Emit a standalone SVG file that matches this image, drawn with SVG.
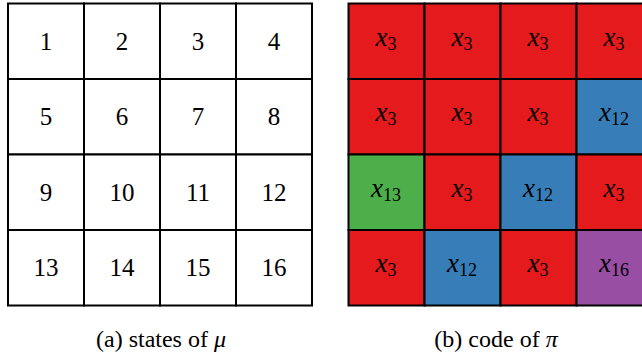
<svg xmlns="http://www.w3.org/2000/svg" width="642" height="356" viewBox="0 0 642 356">
<style>
.cell{stroke:#000;stroke-width:2}
.w{fill:#fff}.r{fill:#e41a1c}.b{fill:#377eb8}.g{fill:#4daf4a}.p{fill:#984ea3}
text{font-family:"Liberation Serif","DejaVu Serif",serif;fill:#000;text-anchor:middle}
.n{font-size:25px}
.m{font-size:27px;font-style:italic}
.s{font-size:18px;font-style:normal}
.cap{font-size:24px}
</style>
<rect width="642" height="356" fill="#fff"/>
<g id="gridA">
<rect class="cell w" x="8" y="3.5" width="76" height="75.5"/><rect class="cell w" x="84" y="3.5" width="76" height="75.5"/><rect class="cell w" x="160" y="3.5" width="76" height="75.5"/><rect class="cell w" x="236" y="3.5" width="76" height="75.5"/>
<rect class="cell w" x="8" y="79" width="76" height="75.5"/><rect class="cell w" x="84" y="79" width="76" height="75.5"/><rect class="cell w" x="160" y="79" width="76" height="75.5"/><rect class="cell w" x="236" y="79" width="76" height="75.5"/>
<rect class="cell w" x="8" y="154.5" width="76" height="75.5"/><rect class="cell w" x="84" y="154.5" width="76" height="75.5"/><rect class="cell w" x="160" y="154.5" width="76" height="75.5"/><rect class="cell w" x="236" y="154.5" width="76" height="75.5"/>
<rect class="cell w" x="8" y="230" width="76" height="75.5"/><rect class="cell w" x="84" y="230" width="76" height="75.5"/><rect class="cell w" x="160" y="230" width="76" height="75.5"/><rect class="cell w" x="236" y="230" width="76" height="75.5"/>
<text class="n" x="46" y="50">1</text><text class="n" x="122" y="50">2</text><text class="n" x="198" y="50">3</text><text class="n" x="274" y="50">4</text>
<text class="n" x="46" y="125">5</text><text class="n" x="122" y="125">6</text><text class="n" x="198" y="125">7</text><text class="n" x="274" y="125">8</text>
<text class="n" x="46" y="201">9</text><text class="n" x="122" y="201">10</text><text class="n" x="198" y="201">11</text><text class="n" x="274" y="201">12</text>
<text class="n" x="46" y="276">13</text><text class="n" x="122" y="276">14</text><text class="n" x="198" y="276">15</text><text class="n" x="274" y="276">16</text>
</g>
<g id="gridB">
<rect class="cell r" x="348.5" y="3.5" width="76" height="75.5"/><rect class="cell r" x="424.5" y="3.5" width="76" height="75.5"/><rect class="cell r" x="500.5" y="3.5" width="76" height="75.5"/><rect class="cell r" x="576.5" y="3.5" width="76" height="75.5"/>
<rect class="cell r" x="348.5" y="79" width="76" height="75.5"/><rect class="cell r" x="424.5" y="79" width="76" height="75.5"/><rect class="cell r" x="500.5" y="79" width="76" height="75.5"/><rect class="cell b" x="576.5" y="79" width="76" height="75.5"/>
<rect class="cell g" x="348.5" y="154.5" width="76" height="75.5"/><rect class="cell r" x="424.5" y="154.5" width="76" height="75.5"/><rect class="cell b" x="500.5" y="154.5" width="76" height="75.5"/><rect class="cell r" x="576.5" y="154.5" width="76" height="75.5"/>
<rect class="cell r" x="348.5" y="230" width="76" height="75.5"/><rect class="cell b" x="424.5" y="230" width="76" height="75.5"/><rect class="cell r" x="500.5" y="230" width="76" height="75.5"/><rect class="cell p" x="576.5" y="230" width="76" height="75.5"/>
<text class="m" x="386" y="46">x<tspan class="s" dy="4">3</tspan></text><text class="m" x="462" y="46">x<tspan class="s" dy="4">3</tspan></text><text class="m" x="538" y="46">x<tspan class="s" dy="4">3</tspan></text><text class="m" x="614" y="46">x<tspan class="s" dy="4">3</tspan></text>
<text class="m" x="386" y="121">x<tspan class="s" dy="4">3</tspan></text><text class="m" x="462" y="121">x<tspan class="s" dy="4">3</tspan></text><text class="m" x="538" y="121">x<tspan class="s" dy="4">3</tspan></text><text class="m" x="614" y="121">x<tspan class="s" dy="4">12</tspan></text>
<text class="m" x="386" y="197">x<tspan class="s" dy="4">13</tspan></text><text class="m" x="462" y="197">x<tspan class="s" dy="4">3</tspan></text><text class="m" x="538" y="197">x<tspan class="s" dy="4">12</tspan></text><text class="m" x="614" y="197">x<tspan class="s" dy="4">3</tspan></text>
<text class="m" x="386" y="272">x<tspan class="s" dy="4">3</tspan></text><text class="m" x="462" y="272">x<tspan class="s" dy="4">12</tspan></text><text class="m" x="538" y="272">x<tspan class="s" dy="4">3</tspan></text><text class="m" x="614" y="272">x<tspan class="s" dy="4">16</tspan></text>
</g>
<text class="cap" x="161" y="347">(a) states of <tspan font-style="italic">μ</tspan></text>
<text class="cap" x="496" y="347">(b) code of <tspan font-style="italic">π</tspan></text>
</svg>
